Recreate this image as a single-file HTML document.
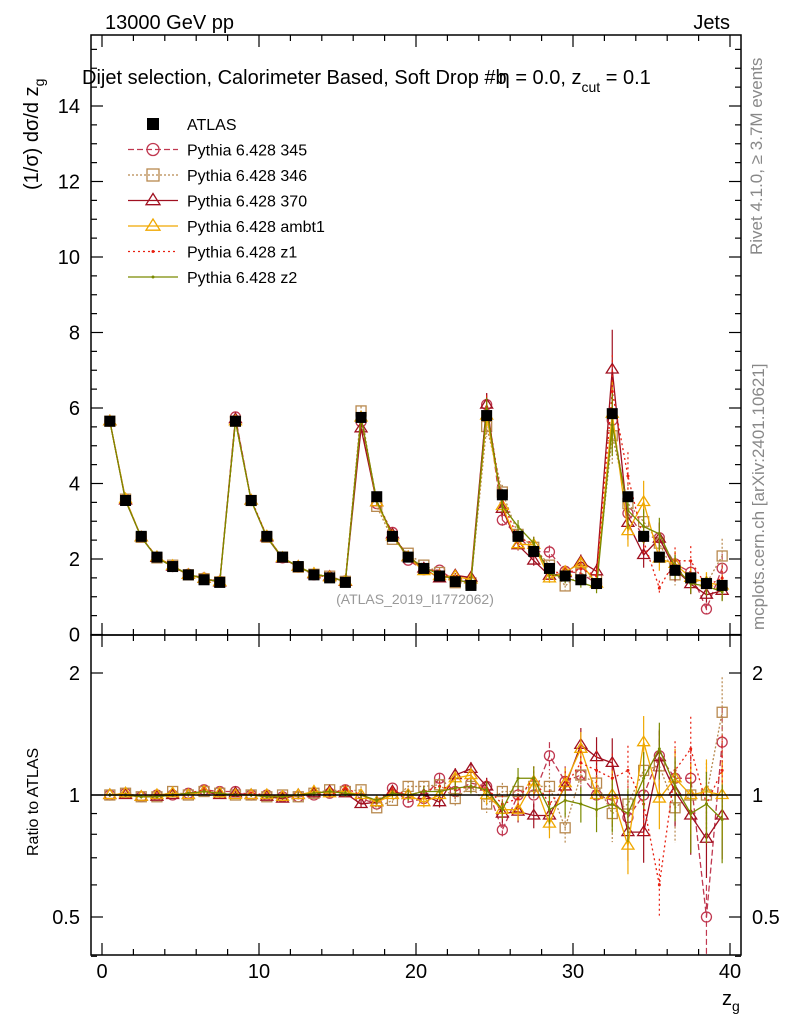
<!DOCTYPE html>
<html><head><meta charset="utf-8"><style>
body{margin:0;background:#fff}
svg{display:block;font-family:"Liberation Sans",sans-serif}
</style></head><body>
<svg id="c" width="786" height="1024" xmlns="http://www.w3.org/2000/svg">
<text x="105" y="29" font-size="20">13000 GeV pp</text>
<text x="730" y="29" font-size="20" text-anchor="end">Jets</text>
<text x="82" y="84" font-size="20">Dijet selection, Calorimeter Based, Soft Drop #b<tspan dx="-8">η</tspan> = 0.0, z<tspan font-size="14" dy="8">cut</tspan><tspan dy="-8"> = 0.1</tspan></text>
<text transform="translate(38,190) rotate(-90)" font-size="20">(1/σ) dσ/d z<tspan font-size="14" dy="6">g</tspan></text>
<text transform="translate(38,856) rotate(-90)" font-size="16">Ratio to ATLAS</text>
<text x="722" y="1005" font-size="20">z<tspan font-size="14" dy="6">g</tspan></text>
<text transform="translate(762,255) rotate(-90)" font-size="17" fill="#888">Rivet 4.1.0, ≥ 3.7M events</text>
<text transform="translate(764,630) rotate(-90)" font-size="17" fill="#888">mcplots.cern.ch [arXiv:2401.10621]</text>
<text x="415" y="604" font-size="14" fill="#999" text-anchor="middle">(ATLAS_2019_I1772062)</text>
<g id="main"></g><g id="ratio"></g><g id="leg"></g>
<rect x="91" y="35" width="650" height="600" fill="none" stroke="#000" stroke-width="1.5"/>
<rect x="91" y="635" width="650" height="320" fill="none" stroke="#000" stroke-width="1.5"/>
</svg>
<script>
const bins=[];for(let i=0;i<40;i++)bins.push(i+0.5);
const atlas=[5.65,3.55,2.6,2.05,1.8,1.58,1.45,1.38, 5.65,3.55,2.6,2.05,1.8,1.58,1.5,1.38, 5.75,3.65,2.6,2.05,1.75,1.55,1.4,1.3, 5.8,3.7,2.6,2.2,1.75,1.55,1.45,1.35, 5.85,3.65,2.6,2.05,1.7,1.5,1.35,1.3];
const relErr=[0.01,0.01,0.01,0.01,0.01,0.01,0.015,0.015, 0.01,0.01,0.01,0.01,0.015,0.015,0.015,0.02, 0.02,0.02,0.02,0.03,0.03,0.03,0.04,0.04, 0.05,0.05,0.06,0.07,0.08,0.09,0.1,0.12, 0.15,0.15,0.16,0.16,0.18,0.2,0.2,0.22];
const r345=[1,1.01,0.99,1,1,1.01,1.03,1.02, 1.02,1,1,0.99,0.99,1,1.01,1.03, 0.98,0.95,1.04,0.96,0.98,1.1,1.02,1.07, 1.05,0.82,1,1,1.25,1.08,1.12,1,0.97,0.88,1,1.25,1.1,1.1,0.5,1.35];
const r346=[1,1.01,0.99,0.99,1.02,1,1.02,1.01, 1,1,0.99,1,0.99,1.01,1.03,1.02, 1.03,0.93,0.97,1.05,1.05,1.06,0.98,1.05, 0.95,1.02,1.02,1.05,1.05,0.83,1.12,1.07,0.9,0.95,1.15,1.18,0.93,1,1,1.6];
const r370=[1,1,0.99,0.99,1,1,1.02,1, 1.01,1,0.99,0.98,1,1.01,1.02,1.01, 0.95,0.96,1.02,1,1,0.96,1.12,1.16, 1.05,0.9,0.91,0.89,0.89,1.05,1.33,1.24,1.2,0.81,0.81,1.24,1.02,0.89,0.78,0.89];
const rambt1=[1,1.01,0.99,1,1.01,1,1.02,1.01, 1,1,1,0.99,1,1.02,1.01,1.02, 1,0.96,1,1,0.96,1,1.1,1.12, 1,0.92,0.92,1.08,0.85,1.07,1.3,1,1,0.75,1.35,0.98,1.1,1,1.02,1];
const rz1=[1,1,0.99,1,1,1.01,1.03,1.01, 1,1.01,1,0.99,1,1.01,1,1.04, 1,0.97,1.03,1,1.02,1.05,1.03,1.05, 1.04,0.95,0.98,1.1,0.95,1.05,1.2,1.15,1.1,1.15,0.95,0.6,1.15,1.3,0.95,1.15];
const rz2=[1,1,0.99,0.99,1,1.01,1.02,1.01, 1,1,0.99,0.99,1,1.01,1.02,1.01, 1,0.97,1.01,1,1.02,1.02,1.04,1.05, 1.03,0.92,1.1,1.1,0.92,0.97,0.95,0.92,0.95,0.9,1.1,1.3,1.05,0.9,0.95,0.87];
const NS="http://www.w3.org/2000/svg";
const X=v=>102+15.7*v, Y=v=>634.5-37.75*v, R=v=>795-122*Math.log2(v);
function el(p,t,a){const e=document.createElementNS(NS,t);for(const k in a)e.setAttribute(k,a[k]);p.appendChild(e);return e;}
const svg=document.getElementById('c'),gm=document.getElementById('main'),gr=document.getElementById('ratio'),gl=document.getElementById('leg');
for(let v=0;v<=40;v+=2){const maj=v%10==0,l=maj?12:6;
 for(const [y0,d] of [[955,-1],[635,-1],[635,1],[35,1]]){const t=el(svg,'line',{x1:X(v),x2:X(v),y1:y0,y2:y0+d*l,stroke:'#000','stroke-width':1.2});
 
 }
 if(maj){const tx=el(svg,'text',{x:X(v),y:978,'font-size':20,'text-anchor':'middle'});tx.textContent=v;
 
 }}
for(let v=0;v<=15.5;v+=0.5){const y=Y(v);if(y<36)continue;const maj=v%2==0,l=maj?12:6;
 for(const [x0,d] of [[91,1],[741,-1]]){const t=el(svg,'line',{x1:x0,x2:x0+d*l,y1:y,y2:y,stroke:'#000','stroke-width':1.2});
 
 }
 if(maj){const tx=el(svg,'text',{x:80,y:y+7,'font-size':20,'text-anchor':'end'});tx.textContent=v;
 
 }}
const rt=[0.4,0.5,0.6,0.7,0.8,0.9,1,2];
for(const v of rt){const y=R(v),maj=(v==0.5||v==1||v==2),l=maj?12:6;
 for(const [x0,d] of [[91,1],[741,-1]]){const t=el(svg,'line',{x1:x0,x2:x0+d*l,y1:y,y2:y,stroke:'#000','stroke-width':1.2});
 
 }
 if(maj){for(const [x,a] of [[80,'end'],[752,'start']]){const tx=el(svg,'text',{x:x,y:y+7,'font-size':20,'text-anchor':a});tx.textContent=v;
 
 }}}
const series=[
 {n:'345',r:r345,c:'#c03850',d:'6,3',m:'circle'},
 {n:'346',r:r346,c:'#b8894f',d:'2,2',m:'square'},
 {n:'370',r:r370,c:'#a01020',d:'',m:'tri'},
 {n:'ambt1',r:rambt1,c:'#f0a800',d:'',m:'tri'},
 {n:'z1',r:rz1,c:'#e82010',d:'2,3',m:'dot'},
 {n:'z2',r:rz2,c:'#7a8a00',d:'',m:'dot'}];
function marker(g,m,x,y,c,s){if(m=='circle')return el(g,'circle',{cx:x,cy:y,r:s,fill:'none',stroke:c,'stroke-width':1.3});
 if(m=='square')return el(g,'rect',{x:x-s,y:y-s,width:2*s,height:2*s,fill:'none',stroke:c,'stroke-width':1.3});
 if(m=='tri')return el(g,'polygon',{points:`${x},${y-s-1} ${x-s-1},${y+s*0.7} ${x+s+1},${y+s*0.7}`,fill:'none',stroke:c,'stroke-width':1.3});
 return el(g,'circle',{cx:x,cy:y,r:1.5,fill:c});}
series.forEach(s=>{
 const vals=bins.map((b,i)=>atlas[i]*s.r[i]);
 const pm=el(gm,'polyline',{points:bins.map((b,i)=>X(b)+','+Y(vals[i])).join(' '),fill:'none',stroke:s.c,'stroke-width':1.3,'stroke-dasharray':s.d});
 
 
 const pr=el(gr,'polyline',{points:bins.map((b,i)=>X(b)+','+R(s.r[i])).join(' '),fill:'none',stroke:s.c,'stroke-width':1.3,'stroke-dasharray':s.d});
 
 
 bins.forEach((b,i)=>{const e=relErr[i];
  const x=X(b),v=vals[i],r=s.r[i];
  const em=el(gm,'line',{x1:x,x2:x,y1:Y(v*(1+e)),y2:Y(v*(1-e)),stroke:s.c,'stroke-width':1.2,'stroke-dasharray':s.d});
  
  
  const er=el(gr,'line',{x1:x,x2:x,y1:R(r*(1+e)),y2:R(Math.max(0.3,r*(1-e))),stroke:s.c,'stroke-width':1.2,'stroke-dasharray':s.d});
  
  
  const mm=marker(gm,s.m,x,Y(v),s.c,5);
  
  
  const mr=marker(gr,s.m,x,R(r),s.c,5);
  
  });});
const ref=el(gr,'line',{x1:91,x2:741,y1:R(1),y2:R(1),stroke:'#000','stroke-width':1.5});


bins.forEach((b,i)=>{const d=el(gm,'rect',{x:X(b)-5.5,y:Y(atlas[i])-5.5,width:11,height:11,fill:'#000'});
 
 });
const lg=[['ATLAS','#000','','data'],...series.map(s=>['Pythia 6.428 '+s.n,s.c,s.d,s.m])];
lg.forEach((L,i)=>{const y=124+25.5*i;let m;
 if(L[3]=='data'){m=el(gl,'rect',{x:147,y:y-6,width:12,height:12,fill:'#000'});}
 else{const ln=el(gl,'line',{x1:128,x2:178,y1:y,y2:y,stroke:L[1],'stroke-width':1.3,'stroke-dasharray':L[2]});
  
  
  m=marker(gl,L[3],153,y,L[1],6);}
 
 
 const t=el(gl,'text',{x:187,y:y+6,'font-size':16});t.textContent=L[0];
 
 });
</script>
</body></html>
